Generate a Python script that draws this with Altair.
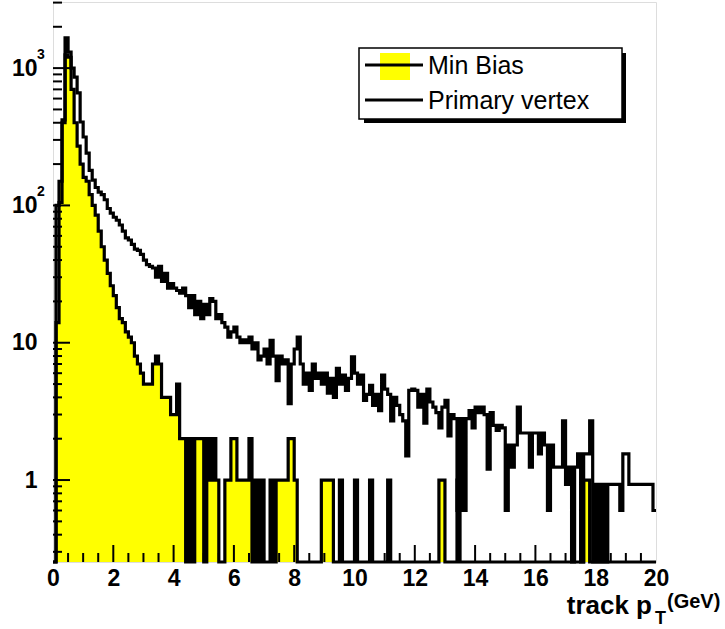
import altair as alt
import pandas as pd

# Track pT histograms, 0.1 GeV bins from 0 to 20 GeV
min_bias = [
    0, 14, 150, 420, 1250, 1200, 700, 400, 270, 200,
    160, 150, 120, 100, 85, 65, 50, 40, 32, 26,
    22, 18, 15, 14, 12, 11, 10, 8, 7, 6,
    5, 5, 5, 7, 8, 7, 4, 4, 4, 3,
    3, 5, 2, 2, 0, 2, 0, 2, 2, 2,
    0, 2, 1, 2, 1, 0, 0, 1, 1, 2,
    2, 1, 1, 1, 1, 2, 0, 1, 0, 1,
    0, 0, 1, 0, 1, 1, 1, 1, 2, 2,
    1, 0, 0, 0, 0, 0, 0, 0, 0, 1,
    1, 1, 1, 0, 0, 1, 0, 0, 0, 0,
    1, 0, 0, 0, 0, 1, 0, 0, 0, 0,
    0, 1, 0, 0, 0, 0, 0, 0, 0, 0,
    0, 0, 0, 0, 0, 0, 0, 0, 1, 1,
    0, 0, 0, 0, 1, 0, 0, 0, 0, 0,
    0, 0, 0, 0, 0, 0, 0, 0, 0, 0,
    0, 0, 0, 0, 0, 0, 0, 0, 0, 0,
    0, 0, 0, 0, 0, 0, 0, 0, 0, 0,
    0, 0, 0, 0, 0, 0, 1, 1, 0, 0,
    0, 0, 0, 0, 0, 0, 0, 0, 0, 0,
    0, 0, 0, 0, 0, 0, 0, 0, 0, 0,
]

primary_vertex = [
    0, 100, 105, 400, 1660, 1310, 1000, 860, 660, 405,
    315, 240, 180, 153, 135, 125, 120, 110, 95, 88,
    82, 78, 72, 65, 58, 56, 52, 48, 47, 44,
    40, 37, 36, 35, 30, 36, 28, 32, 25, 27,
    25, 24, 23, 25, 22, 18, 22, 16, 20, 15,
    19, 16, 21, 20, 15, 16, 14, 13, 11, 12,
    13, 11, 10, 10.5, 10, 11, 9, 10, 7.5, 8,
    9, 7, 10.4, 8, 5.3, 8, 7, 7.5, 3.6, 7,
    9, 11, 7, 5, 6, 4.5, 7, 5.5, 6, 5,
    6, 4.3, 5.5, 4, 6.5, 5, 5.8, 4.5, 5.5, 7.9,
    6, 5, 5.8, 3.8, 4.2, 4.9, 3.5, 4.2, 3.2, 5.8,
    4.6, 4.2, 2.7, 4, 3.5, 3, 2.7, 1.5, 4.5, 4.6,
    4.5, 3.4, 4.2, 2.6, 4.6, 3.7, 3.4, 3.1, 2.4, 3.4,
    3.8, 2.1, 3, 2.8, 0.6, 2.8, 0.6, 2.8, 3.2, 2.4,
    3.4, 3.1, 3.4, 3, 1.2, 3.1, 2.5, 2.3, 2.5, 2.4,
    0.6, 1.8, 1.24, 1.8, 3.4, 2.2, 2.2, 2.2, 1.24, 2.2,
    2.2, 1.55, 2.2, 1.8, 0.6, 1.8, 1.24, 1.24, 1.24, 2.7,
    0.93, 1.24, 0, 1.24, 1.55, 0, 1.55, 1.55, 2.7, 0,
    0.93, 0, 0.93, 0, 0.93, 0.93, 0.93, 0.93, 0.6, 1.55,
    1.55, 0.93, 0.93, 0.93, 0.93, 0.93, 0.93, 0.93, 0.93, 0.6,
]

x_labels = [0, 2, 4, 6, 8, 10, 12, 14, 16, 18, 20]
y_labels = [1, 10, 100, 1000]
y_powers = [(1000, "3"), (100, "2")]
legend_names = ["Min Bias", "Primary vertex"]

N_BINS = 200
BIN_W = 0.1
Y_MIN, Y_MAX = 0.253, 3030
EMPTY = 1e-3  # empty bins fall below the axis and are clamped to the frame bottom

W, H = 603, 560
FONT = "Liberation Sans"
LINE_W = 3.2

edges = [round(i * BIN_W, 1) for i in range(N_BINS + 1)]


def steps(counts):
    vals = list(counts) + [counts[-1]]
    return pd.DataFrame({"pt": edges, "n": [v if v > 0 else EMPTY for v in vals]})


mb_df = steps(min_bias)
pv_df = steps(primary_vertex)

x_scale = alt.Scale(domain=[0, 20], nice=False, zero=False)
y_scale = alt.Scale(type="log", domain=[Y_MIN, Y_MAX], nice=False, clamp=True)

x_enc = alt.X("pt:Q", scale=x_scale,
              axis=alt.Axis(values=x_labels, ticks=False, tickSize=0, domain=False, grid=False,
                            labelFont=FONT, labelFontSize=23, labelFontWeight="bold",
                            labelColor="black", labelPadding=5, title=None, labelFlush=False))
y_enc = alt.Y("n:Q", scale=y_scale,
              axis=alt.Axis(values=y_labels, ticks=False, tickSize=0, domain=False, grid=False,
                            labelExpr="datum.value >= 100 ? '10' : format(datum.value, 'd')",
                            labelFont=FONT, labelFontSize=23, labelFontWeight="bold",
                            labelColor="black", labelPadding=16, title=None))

fill = alt.Chart(mb_df).mark_area(interpolate="step-after", color="#ffff00", opacity=1).encode(
    x=x_enc, y=y_enc, y2=alt.datum(EMPTY)
)
mb_line = alt.Chart(mb_df).mark_line(interpolate="step-after", color="black",
                                     strokeWidth=LINE_W, strokeJoin="miter").encode(x="pt:Q", y="n:Q")
pv_line = alt.Chart(pv_df).mark_line(interpolate="step-after", color="black",
                                     strokeWidth=LINE_W, strokeJoin="miter").encode(x="pt:Q", y="n:Q")

# inward tick marks on the bottom and left axes
x_major = [float(v) for v in range(2, 20, 2)]
x_minor = [i * 0.5 for i in range(1, 40) if (i * 0.5) % 2 != 0]
xt_major = alt.Chart(pd.DataFrame({"pt": x_major})).mark_rule(color="black", strokeWidth=2).encode(
    x="pt:Q", y=alt.value(H - 17), y2=alt.value(H))
xt_minor = alt.Chart(pd.DataFrame({"pt": x_minor})).mark_rule(color="black", strokeWidth=2).encode(
    x="pt:Q", y=alt.value(H - 9), y2=alt.value(H))

minor_y = [m * d for d in (0.1, 1, 10, 100, 1000) for m in range(2, 10)]
minor_y = [v for v in minor_y if Y_MIN <= v <= Y_MAX]
yt_major = alt.Chart(pd.DataFrame({"n": y_labels})).mark_rule(color="black", strokeWidth=2).encode(
    y="n:Q", x=alt.value(0), x2=alt.value(17))
yt_minor = alt.Chart(pd.DataFrame({"n": minor_y})).mark_rule(color="black", strokeWidth=2).encode(
    y="n:Q", x=alt.value(0), x2=alt.value(9))

powers = alt.Chart(pd.DataFrame({"n": [p[0] for p in y_powers], "s": [p[1] for p in y_powers]})).mark_text(
    font=FONT, fontSize=14, fontWeight="bold", align="left", baseline="middle", dy=-13, color="black"
).encode(y="n:Q", x=alt.value(-16), text="s:N")

# legend box with drop shadow
one = pd.DataFrame({"k": [0]})
leg_shadow = alt.Chart(one).mark_rect(color="black").encode(
    x=alt.value(311), x2=alt.value(573), y=alt.value(51), y2=alt.value(121))
leg_box = alt.Chart(one).mark_rect(fill="white", stroke="black", strokeWidth=1.5).encode(
    x=alt.value(306), x2=alt.value(569), y=alt.value(46), y2=alt.value(117))
leg_swatch = alt.Chart(one).mark_rect(color="#ffff00").encode(
    x=alt.value(327), x2=alt.value(357), y=alt.value(51), y2=alt.value(78))
leg_lines = alt.Chart(pd.DataFrame({"yy": [63, 98]})).mark_rule(color="black", strokeWidth=3).encode(
    x=alt.value(312), x2=alt.value(370), y=alt.Y("yy:Q", scale=None))
leg_text = alt.Chart(pd.DataFrame({"yy": [64, 99], "t": legend_names})).mark_text(
    font=FONT, fontSize=25, align="left", baseline="middle", color="black"
).encode(x=alt.value(375), y=alt.Y("yy:Q", scale=None), text="t:N")

# axis title: track p_T (GeV)
t_main = alt.Chart(one).mark_text(font=FONT, fontSize=26, fontWeight="bold", align="right",
                                  baseline="alphabetic", color="black", text="track p").encode(
    x=alt.value(599), y=alt.value(612))
t_sub = alt.Chart(one).mark_text(font=FONT, fontSize=18, fontWeight="bold", align="left",
                                 baseline="alphabetic", color="black", text="T").encode(
    x=alt.value(602), y=alt.value(622))
t_unit = alt.Chart(one).mark_text(font=FONT, fontSize=20, fontWeight="bold", align="left",
                                  baseline="alphabetic", color="black", text="(GeV)").encode(
    x=alt.value(614), y=alt.value(606))

chart = alt.layer(
    fill, mb_line, pv_line, xt_major, xt_minor, yt_major, yt_minor, powers,
    leg_shadow, leg_box, leg_swatch, leg_lines, leg_text, t_main, t_sub, t_unit
).properties(
    width=W, height=H,
    autosize=alt.AutoSizeParams(type="none"),
    padding={"left": 53, "top": 2, "right": 69, "bottom": 67},
).configure_view(
    stroke="black", strokeWidth=2.5
).configure(background="white")

chart.save("out.html", embed_options={"renderer": "svg", "actions": False})
